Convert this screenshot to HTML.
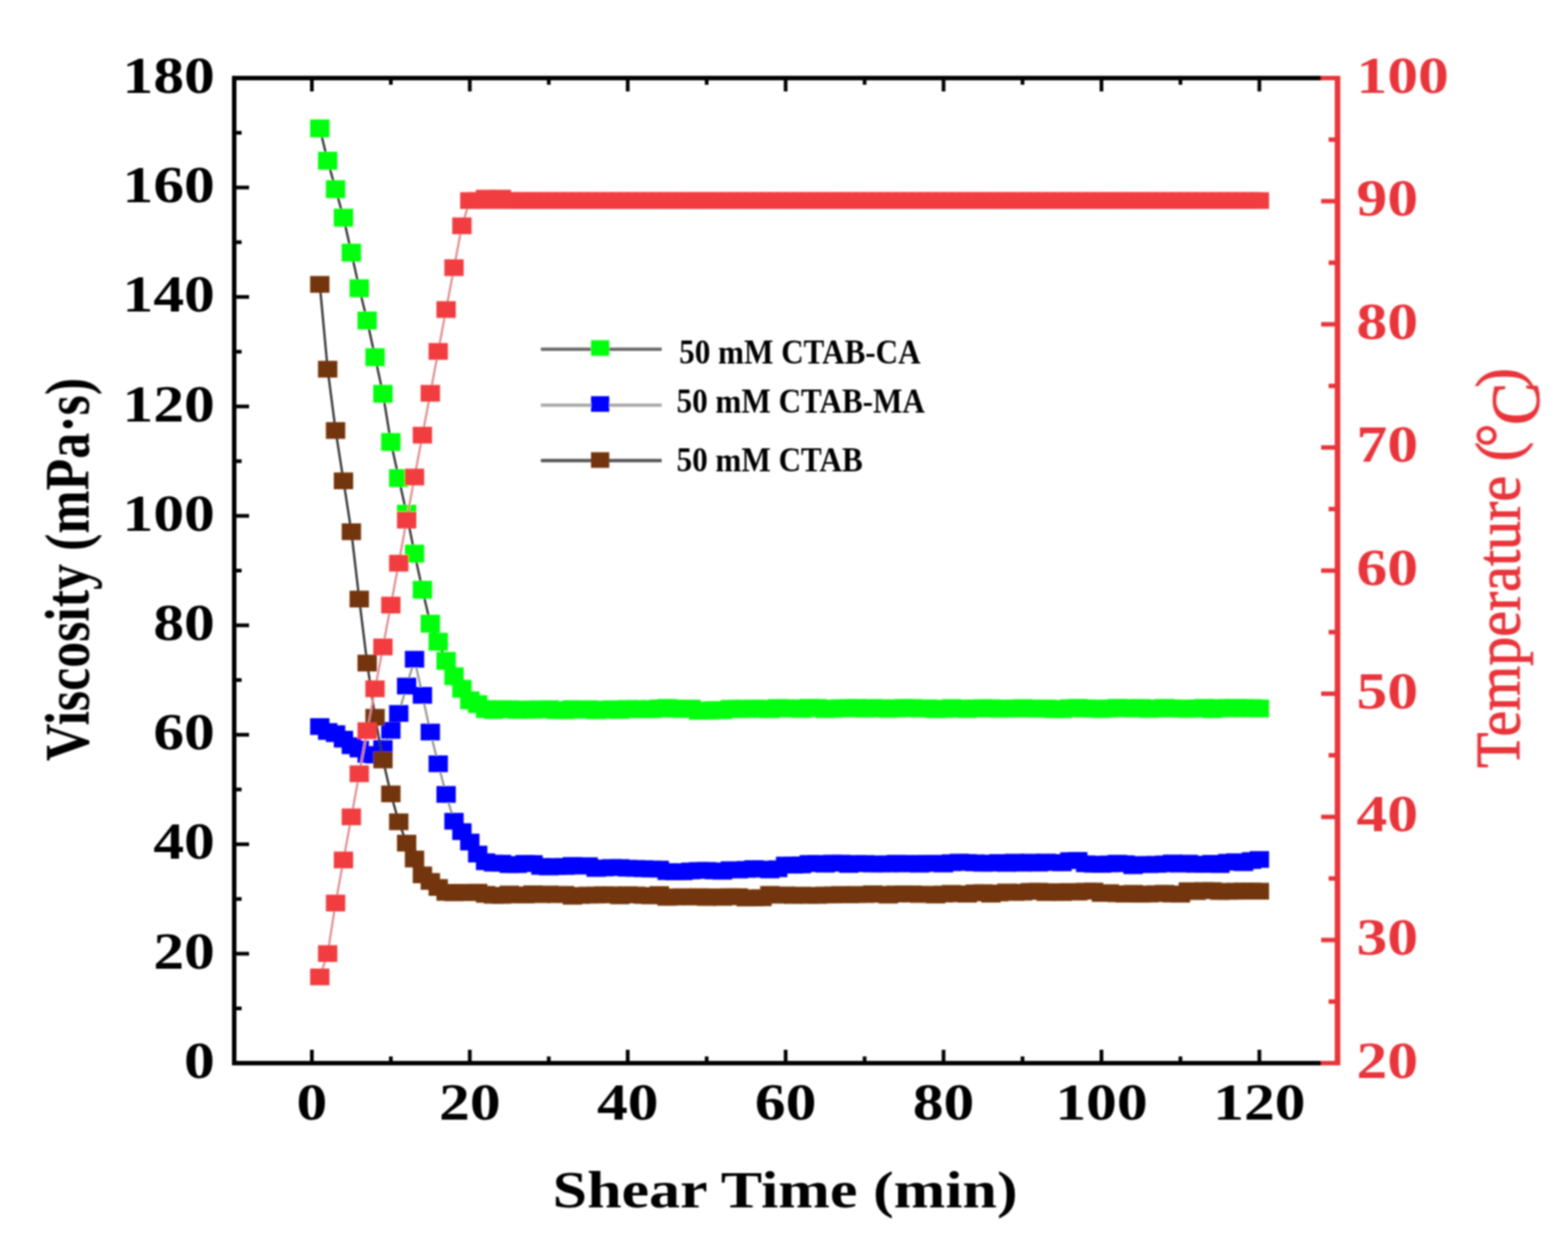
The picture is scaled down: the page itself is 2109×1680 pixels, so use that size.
<!DOCTYPE html>
<html><head><meta charset="utf-8"><title>Viscosity vs Shear Time</title>
<style>html,body{margin:0;padding:0;background:#fff;overflow:hidden}svg{display:block}</style>
</head><body>
<svg width="2109" height="1680" viewBox="0 0 2109 1680" font-family="'Liberation Serif', 'Times New Roman', serif">
<defs><filter id="soft" filterUnits="userSpaceOnUse" x="0" y="0" width="2109" height="1680"><feGaussianBlur stdDeviation="1.25"/></filter></defs>
<rect width="2109" height="1680" fill="#fff"/>
<g filter="url(#soft)">
<polyline fill="none" stroke="#333" stroke-width="3" points="430.1,172.7 440.7,216.2 451.4,254.4 462.0,292.7 472.6,339.8 483.2,387.7 493.8,431.1 504.5,480.4 515.1,529.7 525.7,594.5 536.3,643.1 546.9,690.9 557.6,744.7 568.2,793.3 578.8,838.9 589.4,863.2 600.0,889.0 610.7,909.6 621.3,926.5 631.9,942.0 642.5,947.1 653.1,953.7 663.8,955.1 674.4,953.9 685.0,954.0 695.6,954.9 706.2,954.5 716.9,954.6 727.5,954.2 738.1,954.0 748.7,955.2 759.3,955.3 770.0,953.9 780.6,954.6 791.2,954.0 801.8,955.4 812.4,954.6 823.1,954.1 833.7,955.0 844.3,953.7 854.9,953.8 865.5,953.8 876.2,953.8 886.8,952.9 897.4,952.2 908.0,953.2 918.6,953.5 929.3,953.1 939.9,956.0 950.5,955.7 961.1,955.3 971.7,955.2 982.4,953.5 993.0,953.5 1003.6,953.5 1014.2,953.1 1024.8,953.4 1035.5,953.8 1046.1,952.4 1056.7,952.9 1067.3,952.7 1077.9,953.6 1088.6,952.1 1099.2,952.4 1109.8,953.7 1120.4,953.3 1131.0,952.6 1141.7,952.6 1152.3,952.2 1162.9,953.1 1173.5,952.4 1184.1,952.7 1194.8,953.3 1205.4,952.8 1216.0,952.3 1226.6,952.4 1237.2,953.0 1247.9,952.8 1258.5,953.8 1269.1,953.5 1279.7,952.5 1290.3,953.2 1301.0,953.6 1311.6,952.9 1322.2,952.6 1332.8,952.7 1343.4,953.2 1354.1,953.1 1364.7,953.0 1375.3,952.5 1385.9,953.0 1396.5,953.2 1407.2,953.0 1417.8,953.8 1428.4,953.8 1439.0,952.6 1449.6,952.1 1460.3,952.8 1470.9,953.2 1481.5,953.6 1492.1,953.0 1502.7,952.1 1513.4,952.5 1524.0,952.9 1534.6,952.4 1545.2,953.5 1555.8,953.0 1566.5,952.2 1577.1,952.9 1587.7,953.1 1598.3,953.4 1608.9,952.9 1619.6,952.2 1630.2,953.9 1640.8,952.5 1651.4,952.4 1662.0,952.3 1672.7,952.6 1683.3,952.5 1693.9,953.0"/>
<g fill="#00ff0a"><rect x="417.12" y="160.72" width="26.0" height="24.0"/><rect x="427.74" y="204.15" width="26.0" height="24.0"/><rect x="438.36" y="242.43" width="26.0" height="24.0"/><rect x="448.98" y="280.71" width="26.0" height="24.0"/><rect x="459.60" y="327.82" width="26.0" height="24.0"/><rect x="470.22" y="375.67" width="26.0" height="24.0"/><rect x="480.84" y="419.10" width="26.0" height="24.0"/><rect x="491.46" y="468.42" width="26.0" height="24.0"/><rect x="502.08" y="517.74" width="26.0" height="24.0"/><rect x="512.70" y="582.51" width="26.0" height="24.0"/><rect x="523.32" y="631.10" width="26.0" height="24.0"/><rect x="533.94" y="678.94" width="26.0" height="24.0"/><rect x="544.56" y="732.68" width="26.0" height="24.0"/><rect x="555.18" y="781.26" width="26.0" height="24.0"/><rect x="565.80" y="826.90" width="26.0" height="24.0"/><rect x="576.42" y="851.19" width="26.0" height="24.0"/><rect x="587.04" y="876.96" width="26.0" height="24.0"/><rect x="597.66" y="897.57" width="26.0" height="24.0"/><rect x="608.28" y="914.50" width="26.0" height="24.0"/><rect x="618.90" y="929.96" width="26.0" height="24.0"/><rect x="629.52" y="935.11" width="26.0" height="24.0"/><rect x="640.14" y="941.74" width="26.0" height="24.0"/><rect x="650.76" y="943.12" width="26.0" height="24.0"/><rect x="661.38" y="941.86" width="26.0" height="24.0"/><rect x="672.00" y="942.01" width="26.0" height="24.0"/><rect x="682.62" y="942.90" width="26.0" height="24.0"/><rect x="693.24" y="942.48" width="26.0" height="24.0"/><rect x="703.86" y="942.56" width="26.0" height="24.0"/><rect x="714.48" y="942.20" width="26.0" height="24.0"/><rect x="725.10" y="941.96" width="26.0" height="24.0"/><rect x="735.72" y="943.19" width="26.0" height="24.0"/><rect x="746.34" y="943.31" width="26.0" height="24.0"/><rect x="756.96" y="941.88" width="26.0" height="24.0"/><rect x="767.58" y="942.59" width="26.0" height="24.0"/><rect x="778.20" y="942.01" width="26.0" height="24.0"/><rect x="788.82" y="943.35" width="26.0" height="24.0"/><rect x="799.44" y="942.57" width="26.0" height="24.0"/><rect x="810.06" y="942.08" width="26.0" height="24.0"/><rect x="820.68" y="942.95" width="26.0" height="24.0"/><rect x="831.30" y="941.69" width="26.0" height="24.0"/><rect x="841.92" y="941.76" width="26.0" height="24.0"/><rect x="852.54" y="941.83" width="26.0" height="24.0"/><rect x="863.16" y="941.84" width="26.0" height="24.0"/><rect x="873.78" y="940.93" width="26.0" height="24.0"/><rect x="884.40" y="940.22" width="26.0" height="24.0"/><rect x="895.02" y="941.21" width="26.0" height="24.0"/><rect x="905.64" y="941.50" width="26.0" height="24.0"/><rect x="916.26" y="941.14" width="26.0" height="24.0"/><rect x="926.88" y="944.04" width="26.0" height="24.0"/><rect x="937.50" y="943.70" width="26.0" height="24.0"/><rect x="948.12" y="943.32" width="26.0" height="24.0"/><rect x="958.74" y="943.22" width="26.0" height="24.0"/><rect x="969.36" y="941.47" width="26.0" height="24.0"/><rect x="979.98" y="941.48" width="26.0" height="24.0"/><rect x="990.60" y="941.50" width="26.0" height="24.0"/><rect x="1001.22" y="941.07" width="26.0" height="24.0"/><rect x="1011.84" y="941.37" width="26.0" height="24.0"/><rect x="1022.46" y="941.85" width="26.0" height="24.0"/><rect x="1033.08" y="940.40" width="26.0" height="24.0"/><rect x="1043.70" y="940.90" width="26.0" height="24.0"/><rect x="1054.32" y="940.75" width="26.0" height="24.0"/><rect x="1064.94" y="941.55" width="26.0" height="24.0"/><rect x="1075.56" y="940.13" width="26.0" height="24.0"/><rect x="1086.18" y="940.36" width="26.0" height="24.0"/><rect x="1096.80" y="941.67" width="26.0" height="24.0"/><rect x="1107.42" y="941.30" width="26.0" height="24.0"/><rect x="1118.04" y="940.61" width="26.0" height="24.0"/><rect x="1128.66" y="940.63" width="26.0" height="24.0"/><rect x="1139.28" y="940.23" width="26.0" height="24.0"/><rect x="1149.90" y="941.14" width="26.0" height="24.0"/><rect x="1160.52" y="940.42" width="26.0" height="24.0"/><rect x="1171.14" y="940.70" width="26.0" height="24.0"/><rect x="1181.76" y="941.35" width="26.0" height="24.0"/><rect x="1192.38" y="940.85" width="26.0" height="24.0"/><rect x="1203.00" y="940.32" width="26.0" height="24.0"/><rect x="1213.62" y="940.39" width="26.0" height="24.0"/><rect x="1224.24" y="940.99" width="26.0" height="24.0"/><rect x="1234.86" y="940.84" width="26.0" height="24.0"/><rect x="1245.48" y="941.82" width="26.0" height="24.0"/><rect x="1256.10" y="941.45" width="26.0" height="24.0"/><rect x="1266.72" y="940.47" width="26.0" height="24.0"/><rect x="1277.34" y="941.15" width="26.0" height="24.0"/><rect x="1287.96" y="941.58" width="26.0" height="24.0"/><rect x="1298.58" y="940.91" width="26.0" height="24.0"/><rect x="1309.20" y="940.64" width="26.0" height="24.0"/><rect x="1319.82" y="940.69" width="26.0" height="24.0"/><rect x="1330.44" y="941.22" width="26.0" height="24.0"/><rect x="1341.06" y="941.11" width="26.0" height="24.0"/><rect x="1351.68" y="940.99" width="26.0" height="24.0"/><rect x="1362.30" y="940.51" width="26.0" height="24.0"/><rect x="1372.92" y="940.96" width="26.0" height="24.0"/><rect x="1383.54" y="941.19" width="26.0" height="24.0"/><rect x="1394.16" y="941.02" width="26.0" height="24.0"/><rect x="1404.78" y="941.83" width="26.0" height="24.0"/><rect x="1415.40" y="941.81" width="26.0" height="24.0"/><rect x="1426.02" y="940.64" width="26.0" height="24.0"/><rect x="1436.64" y="940.15" width="26.0" height="24.0"/><rect x="1447.26" y="940.84" width="26.0" height="24.0"/><rect x="1457.88" y="941.19" width="26.0" height="24.0"/><rect x="1468.50" y="941.58" width="26.0" height="24.0"/><rect x="1479.12" y="941.00" width="26.0" height="24.0"/><rect x="1489.74" y="940.15" width="26.0" height="24.0"/><rect x="1500.36" y="940.52" width="26.0" height="24.0"/><rect x="1510.98" y="940.93" width="26.0" height="24.0"/><rect x="1521.60" y="940.36" width="26.0" height="24.0"/><rect x="1532.22" y="941.47" width="26.0" height="24.0"/><rect x="1542.84" y="940.98" width="26.0" height="24.0"/><rect x="1553.46" y="940.20" width="26.0" height="24.0"/><rect x="1564.08" y="940.86" width="26.0" height="24.0"/><rect x="1574.70" y="941.07" width="26.0" height="24.0"/><rect x="1585.32" y="941.41" width="26.0" height="24.0"/><rect x="1595.94" y="940.92" width="26.0" height="24.0"/><rect x="1606.56" y="940.19" width="26.0" height="24.0"/><rect x="1617.18" y="941.87" width="26.0" height="24.0"/><rect x="1627.80" y="940.50" width="26.0" height="24.0"/><rect x="1638.42" y="940.43" width="26.0" height="24.0"/><rect x="1649.04" y="940.32" width="26.0" height="24.0"/><rect x="1659.66" y="940.58" width="26.0" height="24.0"/><rect x="1670.28" y="940.45" width="26.0" height="24.0"/><rect x="1680.90" y="940.97" width="26.0" height="24.0"/></g>
<polyline fill="none" stroke="#999" stroke-width="3" points="430.1,977.3 440.7,983.9 451.4,986.9 462.0,994.2 472.6,1003.1 483.2,1007.5 493.8,1014.8 504.5,1015.6 515.1,1006.7 525.7,982.4 536.3,959.6 546.9,922.8 557.6,886.8 568.2,935.3 578.8,984.7 589.4,1027.3 600.0,1068.6 610.7,1104.6 621.3,1118.6 631.9,1132.6 642.5,1148.8 653.1,1159.1 663.8,1161.0 674.4,1161.1 685.0,1163.0 695.6,1163.0 706.2,1161.3 716.9,1161.5 727.5,1165.4 738.1,1166.2 748.7,1165.5 759.3,1165.5 770.0,1164.1 780.6,1165.0 791.2,1164.4 801.8,1168.2 812.4,1167.5 823.1,1166.9 833.7,1167.0 844.3,1167.8 854.9,1168.1 865.5,1168.5 876.2,1169.0 886.8,1169.0 897.4,1172.4 908.0,1172.8 918.6,1172.6 929.3,1171.5 939.9,1170.8 950.5,1170.8 961.1,1171.5 971.7,1171.9 982.4,1169.8 993.0,1170.2 1003.6,1169.4 1014.2,1168.3 1024.8,1169.0 1035.5,1170.1 1046.1,1168.5 1056.7,1163.6 1067.3,1163.7 1077.9,1163.4 1088.6,1161.5 1099.2,1161.4 1109.8,1162.4 1120.4,1161.0 1131.0,1161.0 1141.7,1162.8 1152.3,1161.5 1162.9,1161.6 1173.5,1162.1 1184.1,1162.0 1194.8,1162.1 1205.4,1161.1 1216.0,1162.1 1226.6,1161.3 1237.2,1162.4 1247.9,1161.2 1258.5,1161.2 1269.1,1162.1 1279.7,1160.4 1290.3,1159.7 1301.0,1160.1 1311.6,1160.6 1322.2,1161.2 1332.8,1161.0 1343.4,1160.1 1354.1,1161.3 1364.7,1159.7 1375.3,1161.1 1385.9,1159.7 1396.5,1161.0 1407.2,1159.6 1417.8,1160.1 1428.4,1160.6 1439.0,1157.6 1449.6,1157.3 1460.3,1161.9 1470.9,1162.5 1481.5,1162.7 1492.1,1162.0 1502.7,1161.1 1513.4,1161.8 1524.0,1164.5 1534.6,1162.8 1545.2,1163.0 1555.8,1162.6 1566.5,1162.0 1577.1,1160.8 1587.7,1162.3 1598.3,1161.0 1608.9,1162.6 1619.6,1162.7 1630.2,1161.2 1640.8,1162.9 1651.4,1159.8 1662.0,1159.1 1672.7,1160.4 1683.3,1157.5 1693.9,1156.1"/>
<g fill="#0000ff"><rect x="417.12" y="966.04" width="26.0" height="22.5"/><rect x="427.74" y="972.67" width="26.0" height="22.5"/><rect x="438.36" y="975.61" width="26.0" height="22.5"/><rect x="448.98" y="982.97" width="26.0" height="22.5"/><rect x="459.60" y="991.81" width="26.0" height="22.5"/><rect x="470.22" y="996.22" width="26.0" height="22.5"/><rect x="480.84" y="1003.58" width="26.0" height="22.5"/><rect x="491.46" y="1004.32" width="26.0" height="22.5"/><rect x="502.08" y="995.49" width="26.0" height="22.5"/><rect x="512.70" y="971.19" width="26.0" height="22.5"/><rect x="523.32" y="948.38" width="26.0" height="22.5"/><rect x="533.94" y="911.57" width="26.0" height="22.5"/><rect x="544.56" y="875.50" width="26.0" height="22.5"/><rect x="555.18" y="924.08" width="26.0" height="22.5"/><rect x="565.80" y="973.40" width="26.0" height="22.5"/><rect x="576.42" y="1016.10" width="26.0" height="22.5"/><rect x="587.04" y="1057.32" width="26.0" height="22.5"/><rect x="597.66" y="1093.39" width="26.0" height="22.5"/><rect x="608.28" y="1107.38" width="26.0" height="22.5"/><rect x="618.90" y="1121.36" width="26.0" height="22.5"/><rect x="629.52" y="1137.56" width="26.0" height="22.5"/><rect x="640.14" y="1147.86" width="26.0" height="22.5"/><rect x="650.76" y="1149.80" width="26.0" height="22.5"/><rect x="661.38" y="1149.82" width="26.0" height="22.5"/><rect x="672.00" y="1151.78" width="26.0" height="22.5"/><rect x="682.62" y="1151.72" width="26.0" height="22.5"/><rect x="693.24" y="1150.06" width="26.0" height="22.5"/><rect x="703.86" y="1150.28" width="26.0" height="22.5"/><rect x="714.48" y="1154.11" width="26.0" height="22.5"/><rect x="725.10" y="1154.91" width="26.0" height="22.5"/><rect x="735.72" y="1154.25" width="26.0" height="22.5"/><rect x="746.34" y="1154.25" width="26.0" height="22.5"/><rect x="756.96" y="1152.83" width="26.0" height="22.5"/><rect x="767.58" y="1153.77" width="26.0" height="22.5"/><rect x="778.20" y="1153.17" width="26.0" height="22.5"/><rect x="788.82" y="1156.93" width="26.0" height="22.5"/><rect x="799.44" y="1156.20" width="26.0" height="22.5"/><rect x="810.06" y="1155.60" width="26.0" height="22.5"/><rect x="820.68" y="1155.70" width="26.0" height="22.5"/><rect x="831.30" y="1156.60" width="26.0" height="22.5"/><rect x="841.92" y="1156.82" width="26.0" height="22.5"/><rect x="852.54" y="1157.21" width="26.0" height="22.5"/><rect x="863.16" y="1157.72" width="26.0" height="22.5"/><rect x="873.78" y="1157.74" width="26.0" height="22.5"/><rect x="884.40" y="1161.19" width="26.0" height="22.5"/><rect x="895.02" y="1161.51" width="26.0" height="22.5"/><rect x="905.64" y="1161.38" width="26.0" height="22.5"/><rect x="916.26" y="1160.25" width="26.0" height="22.5"/><rect x="926.88" y="1159.58" width="26.0" height="22.5"/><rect x="937.50" y="1159.51" width="26.0" height="22.5"/><rect x="948.12" y="1160.22" width="26.0" height="22.5"/><rect x="958.74" y="1160.69" width="26.0" height="22.5"/><rect x="969.36" y="1158.55" width="26.0" height="22.5"/><rect x="979.98" y="1158.97" width="26.0" height="22.5"/><rect x="990.60" y="1158.14" width="26.0" height="22.5"/><rect x="1001.22" y="1157.07" width="26.0" height="22.5"/><rect x="1011.84" y="1157.78" width="26.0" height="22.5"/><rect x="1022.46" y="1158.87" width="26.0" height="22.5"/><rect x="1033.08" y="1157.30" width="26.0" height="22.5"/><rect x="1043.70" y="1152.36" width="26.0" height="22.5"/><rect x="1054.32" y="1152.50" width="26.0" height="22.5"/><rect x="1064.94" y="1152.12" width="26.0" height="22.5"/><rect x="1075.56" y="1150.23" width="26.0" height="22.5"/><rect x="1086.18" y="1150.17" width="26.0" height="22.5"/><rect x="1096.80" y="1151.13" width="26.0" height="22.5"/><rect x="1107.42" y="1149.74" width="26.0" height="22.5"/><rect x="1118.04" y="1149.79" width="26.0" height="22.5"/><rect x="1128.66" y="1151.55" width="26.0" height="22.5"/><rect x="1139.28" y="1150.24" width="26.0" height="22.5"/><rect x="1149.90" y="1150.33" width="26.0" height="22.5"/><rect x="1160.52" y="1150.89" width="26.0" height="22.5"/><rect x="1171.14" y="1150.74" width="26.0" height="22.5"/><rect x="1181.76" y="1150.83" width="26.0" height="22.5"/><rect x="1192.38" y="1149.87" width="26.0" height="22.5"/><rect x="1203.00" y="1150.80" width="26.0" height="22.5"/><rect x="1213.62" y="1150.07" width="26.0" height="22.5"/><rect x="1224.24" y="1151.13" width="26.0" height="22.5"/><rect x="1234.86" y="1149.96" width="26.0" height="22.5"/><rect x="1245.48" y="1149.92" width="26.0" height="22.5"/><rect x="1256.10" y="1150.89" width="26.0" height="22.5"/><rect x="1266.72" y="1149.18" width="26.0" height="22.5"/><rect x="1277.34" y="1148.41" width="26.0" height="22.5"/><rect x="1287.96" y="1148.84" width="26.0" height="22.5"/><rect x="1298.58" y="1149.36" width="26.0" height="22.5"/><rect x="1309.20" y="1149.95" width="26.0" height="22.5"/><rect x="1319.82" y="1149.72" width="26.0" height="22.5"/><rect x="1330.44" y="1148.89" width="26.0" height="22.5"/><rect x="1341.06" y="1150.07" width="26.0" height="22.5"/><rect x="1351.68" y="1148.43" width="26.0" height="22.5"/><rect x="1362.30" y="1149.85" width="26.0" height="22.5"/><rect x="1372.92" y="1148.42" width="26.0" height="22.5"/><rect x="1383.54" y="1149.75" width="26.0" height="22.5"/><rect x="1394.16" y="1148.32" width="26.0" height="22.5"/><rect x="1404.78" y="1148.88" width="26.0" height="22.5"/><rect x="1415.40" y="1149.32" width="26.0" height="22.5"/><rect x="1426.02" y="1146.35" width="26.0" height="22.5"/><rect x="1436.64" y="1146.05" width="26.0" height="22.5"/><rect x="1447.26" y="1150.61" width="26.0" height="22.5"/><rect x="1457.88" y="1151.22" width="26.0" height="22.5"/><rect x="1468.50" y="1151.45" width="26.0" height="22.5"/><rect x="1479.12" y="1150.78" width="26.0" height="22.5"/><rect x="1489.74" y="1149.85" width="26.0" height="22.5"/><rect x="1500.36" y="1150.53" width="26.0" height="22.5"/><rect x="1510.98" y="1153.22" width="26.0" height="22.5"/><rect x="1521.60" y="1151.57" width="26.0" height="22.5"/><rect x="1532.22" y="1151.78" width="26.0" height="22.5"/><rect x="1542.84" y="1151.38" width="26.0" height="22.5"/><rect x="1553.46" y="1150.75" width="26.0" height="22.5"/><rect x="1564.08" y="1149.53" width="26.0" height="22.5"/><rect x="1574.70" y="1151.04" width="26.0" height="22.5"/><rect x="1585.32" y="1149.73" width="26.0" height="22.5"/><rect x="1595.94" y="1151.31" width="26.0" height="22.5"/><rect x="1606.56" y="1151.41" width="26.0" height="22.5"/><rect x="1617.18" y="1149.98" width="26.0" height="22.5"/><rect x="1627.80" y="1151.68" width="26.0" height="22.5"/><rect x="1638.42" y="1148.55" width="26.0" height="22.5"/><rect x="1649.04" y="1147.82" width="26.0" height="22.5"/><rect x="1659.66" y="1149.16" width="26.0" height="22.5"/><rect x="1670.28" y="1146.29" width="26.0" height="22.5"/><rect x="1680.90" y="1144.81" width="26.0" height="22.5"/></g>
<polyline fill="none" stroke="#333" stroke-width="3" points="430.1,382.5 440.7,496.6 451.4,579.1 462.0,646.8 472.6,715.2 483.2,805.8 493.8,891.9 504.5,964.8 515.1,1022.2 525.7,1067.8 536.3,1105.4 546.9,1134.1 557.6,1155.4 568.2,1176.8 578.8,1185.6 589.4,1193.7 600.0,1200.3 610.7,1200.9 621.3,1200.2 631.9,1200.6 642.5,1200.1 653.1,1203.0 663.8,1204.2 674.4,1204.4 685.0,1202.5 695.6,1203.8 706.2,1203.9 716.9,1202.2 727.5,1203.3 738.1,1202.5 748.7,1203.3 759.3,1203.0 770.0,1205.5 780.6,1204.5 791.2,1203.9 801.8,1204.0 812.4,1203.5 823.1,1203.6 833.7,1205.0 844.3,1203.4 854.9,1203.8 865.5,1204.5 876.2,1205.0 886.8,1203.2 897.4,1207.0 908.0,1206.5 918.6,1206.1 929.3,1206.5 939.9,1206.0 950.5,1207.2 961.1,1206.3 971.7,1207.1 982.4,1206.0 993.0,1206.1 1003.6,1207.8 1014.2,1207.8 1024.8,1207.6 1035.5,1203.0 1046.1,1204.2 1056.7,1203.7 1067.3,1204.5 1077.9,1204.0 1088.6,1204.3 1099.2,1204.3 1109.8,1203.8 1120.4,1203.8 1131.0,1203.1 1141.7,1203.6 1152.3,1203.1 1162.9,1203.2 1173.5,1202.2 1184.1,1202.9 1194.8,1204.0 1205.4,1202.5 1216.0,1202.3 1226.6,1202.4 1237.2,1203.1 1247.9,1202.8 1258.5,1203.9 1269.1,1202.5 1279.7,1201.6 1290.3,1202.3 1301.0,1202.8 1311.6,1201.0 1322.2,1200.7 1332.8,1202.7 1343.4,1201.1 1354.1,1199.8 1364.7,1200.4 1375.3,1200.1 1385.9,1199.0 1396.5,1198.8 1407.2,1200.6 1417.8,1199.3 1428.4,1200.6 1439.0,1199.1 1449.6,1200.0 1460.3,1198.8 1470.9,1198.5 1481.5,1201.8 1492.1,1200.7 1502.7,1202.2 1513.4,1202.7 1524.0,1201.6 1534.6,1202.8 1545.2,1202.5 1555.8,1202.0 1566.5,1201.6 1577.1,1202.6 1587.7,1202.8 1598.3,1198.0 1608.9,1199.3 1619.6,1197.8 1630.2,1198.0 1640.8,1199.1 1651.4,1198.9 1662.0,1198.8 1672.7,1198.5 1683.3,1198.6 1693.9,1198.7"/>
<g fill="#733507"><rect x="417.12" y="371.26" width="26.0" height="22.5"/><rect x="427.74" y="485.36" width="26.0" height="22.5"/><rect x="438.36" y="567.81" width="26.0" height="22.5"/><rect x="448.98" y="635.53" width="26.0" height="22.5"/><rect x="459.60" y="703.99" width="26.0" height="22.5"/><rect x="470.22" y="794.53" width="26.0" height="22.5"/><rect x="480.84" y="880.65" width="26.0" height="22.5"/><rect x="491.46" y="953.53" width="26.0" height="22.5"/><rect x="502.08" y="1010.94" width="26.0" height="22.5"/><rect x="512.70" y="1056.58" width="26.0" height="22.5"/><rect x="523.32" y="1094.12" width="26.0" height="22.5"/><rect x="533.94" y="1122.83" width="26.0" height="22.5"/><rect x="544.56" y="1144.18" width="26.0" height="22.5"/><rect x="555.18" y="1165.53" width="26.0" height="22.5"/><rect x="565.80" y="1174.36" width="26.0" height="22.5"/><rect x="576.42" y="1182.46" width="26.0" height="22.5"/><rect x="587.04" y="1189.08" width="26.0" height="22.5"/><rect x="597.66" y="1189.66" width="26.0" height="22.5"/><rect x="608.28" y="1188.99" width="26.0" height="22.5"/><rect x="618.90" y="1189.37" width="26.0" height="22.5"/><rect x="629.52" y="1188.85" width="26.0" height="22.5"/><rect x="640.14" y="1191.75" width="26.0" height="22.5"/><rect x="650.76" y="1192.99" width="26.0" height="22.5"/><rect x="661.38" y="1193.10" width="26.0" height="22.5"/><rect x="672.00" y="1191.28" width="26.0" height="22.5"/><rect x="682.62" y="1192.56" width="26.0" height="22.5"/><rect x="693.24" y="1192.61" width="26.0" height="22.5"/><rect x="703.86" y="1190.93" width="26.0" height="22.5"/><rect x="714.48" y="1192.09" width="26.0" height="22.5"/><rect x="725.10" y="1191.28" width="26.0" height="22.5"/><rect x="735.72" y="1192.08" width="26.0" height="22.5"/><rect x="746.34" y="1191.72" width="26.0" height="22.5"/><rect x="756.96" y="1194.27" width="26.0" height="22.5"/><rect x="767.58" y="1193.20" width="26.0" height="22.5"/><rect x="778.20" y="1192.69" width="26.0" height="22.5"/><rect x="788.82" y="1192.71" width="26.0" height="22.5"/><rect x="799.44" y="1192.23" width="26.0" height="22.5"/><rect x="810.06" y="1192.39" width="26.0" height="22.5"/><rect x="820.68" y="1193.73" width="26.0" height="22.5"/><rect x="831.30" y="1192.19" width="26.0" height="22.5"/><rect x="841.92" y="1192.56" width="26.0" height="22.5"/><rect x="852.54" y="1193.20" width="26.0" height="22.5"/><rect x="863.16" y="1193.80" width="26.0" height="22.5"/><rect x="873.78" y="1191.96" width="26.0" height="22.5"/><rect x="884.40" y="1195.77" width="26.0" height="22.5"/><rect x="895.02" y="1195.23" width="26.0" height="22.5"/><rect x="905.64" y="1194.87" width="26.0" height="22.5"/><rect x="916.26" y="1195.24" width="26.0" height="22.5"/><rect x="926.88" y="1194.78" width="26.0" height="22.5"/><rect x="937.50" y="1195.94" width="26.0" height="22.5"/><rect x="948.12" y="1195.04" width="26.0" height="22.5"/><rect x="958.74" y="1195.83" width="26.0" height="22.5"/><rect x="969.36" y="1194.75" width="26.0" height="22.5"/><rect x="979.98" y="1194.87" width="26.0" height="22.5"/><rect x="990.60" y="1196.60" width="26.0" height="22.5"/><rect x="1001.22" y="1196.51" width="26.0" height="22.5"/><rect x="1011.84" y="1196.33" width="26.0" height="22.5"/><rect x="1022.46" y="1191.74" width="26.0" height="22.5"/><rect x="1033.08" y="1192.90" width="26.0" height="22.5"/><rect x="1043.70" y="1192.48" width="26.0" height="22.5"/><rect x="1054.32" y="1193.20" width="26.0" height="22.5"/><rect x="1064.94" y="1192.75" width="26.0" height="22.5"/><rect x="1075.56" y="1193.02" width="26.0" height="22.5"/><rect x="1086.18" y="1193.09" width="26.0" height="22.5"/><rect x="1096.80" y="1192.58" width="26.0" height="22.5"/><rect x="1107.42" y="1192.58" width="26.0" height="22.5"/><rect x="1118.04" y="1191.87" width="26.0" height="22.5"/><rect x="1128.66" y="1192.36" width="26.0" height="22.5"/><rect x="1139.28" y="1191.82" width="26.0" height="22.5"/><rect x="1149.90" y="1191.98" width="26.0" height="22.5"/><rect x="1160.52" y="1190.94" width="26.0" height="22.5"/><rect x="1171.14" y="1191.65" width="26.0" height="22.5"/><rect x="1181.76" y="1192.77" width="26.0" height="22.5"/><rect x="1192.38" y="1191.23" width="26.0" height="22.5"/><rect x="1203.00" y="1191.00" width="26.0" height="22.5"/><rect x="1213.62" y="1191.13" width="26.0" height="22.5"/><rect x="1224.24" y="1191.88" width="26.0" height="22.5"/><rect x="1234.86" y="1191.56" width="26.0" height="22.5"/><rect x="1245.48" y="1192.67" width="26.0" height="22.5"/><rect x="1256.10" y="1191.30" width="26.0" height="22.5"/><rect x="1266.72" y="1190.39" width="26.0" height="22.5"/><rect x="1277.34" y="1191.03" width="26.0" height="22.5"/><rect x="1287.96" y="1191.52" width="26.0" height="22.5"/><rect x="1298.58" y="1189.77" width="26.0" height="22.5"/><rect x="1309.20" y="1189.47" width="26.0" height="22.5"/><rect x="1319.82" y="1191.46" width="26.0" height="22.5"/><rect x="1330.44" y="1189.89" width="26.0" height="22.5"/><rect x="1341.06" y="1188.54" width="26.0" height="22.5"/><rect x="1351.68" y="1189.12" width="26.0" height="22.5"/><rect x="1362.30" y="1188.80" width="26.0" height="22.5"/><rect x="1372.92" y="1187.75" width="26.0" height="22.5"/><rect x="1383.54" y="1187.52" width="26.0" height="22.5"/><rect x="1394.16" y="1189.35" width="26.0" height="22.5"/><rect x="1404.78" y="1188.09" width="26.0" height="22.5"/><rect x="1415.40" y="1189.35" width="26.0" height="22.5"/><rect x="1426.02" y="1187.86" width="26.0" height="22.5"/><rect x="1436.64" y="1188.72" width="26.0" height="22.5"/><rect x="1447.26" y="1187.51" width="26.0" height="22.5"/><rect x="1457.88" y="1187.29" width="26.0" height="22.5"/><rect x="1468.50" y="1190.54" width="26.0" height="22.5"/><rect x="1479.12" y="1189.45" width="26.0" height="22.5"/><rect x="1489.74" y="1190.98" width="26.0" height="22.5"/><rect x="1500.36" y="1191.49" width="26.0" height="22.5"/><rect x="1510.98" y="1190.34" width="26.0" height="22.5"/><rect x="1521.60" y="1191.59" width="26.0" height="22.5"/><rect x="1532.22" y="1191.22" width="26.0" height="22.5"/><rect x="1542.84" y="1190.76" width="26.0" height="22.5"/><rect x="1553.46" y="1190.31" width="26.0" height="22.5"/><rect x="1564.08" y="1191.31" width="26.0" height="22.5"/><rect x="1574.70" y="1191.57" width="26.0" height="22.5"/><rect x="1585.32" y="1186.80" width="26.0" height="22.5"/><rect x="1595.94" y="1188.02" width="26.0" height="22.5"/><rect x="1606.56" y="1186.60" width="26.0" height="22.5"/><rect x="1617.18" y="1186.74" width="26.0" height="22.5"/><rect x="1627.80" y="1187.88" width="26.0" height="22.5"/><rect x="1638.42" y="1187.70" width="26.0" height="22.5"/><rect x="1649.04" y="1187.57" width="26.0" height="22.5"/><rect x="1659.66" y="1187.29" width="26.0" height="22.5"/><rect x="1670.28" y="1187.40" width="26.0" height="22.5"/><rect x="1680.90" y="1187.48" width="26.0" height="22.5"/></g>
<polyline fill="none" stroke="#df8a8e" stroke-width="2.8" points="430.1,1314.1 440.7,1282.6 451.4,1214.7 462.0,1156.7 472.6,1098.8 483.2,1040.8 493.8,982.8 504.5,926.5 515.1,870.2 525.7,813.9 536.3,757.6 546.9,699.6 557.6,641.6 568.2,585.3 578.8,529.0 589.4,472.7 600.0,416.4 610.7,360.1 621.3,303.8 631.9,269.8 642.5,269.8 653.1,266.5 663.8,269.8 674.4,266.5 685.0,269.8 695.6,269.8 706.2,269.8 716.9,269.8 727.5,269.8 738.1,269.8 748.7,269.8 759.3,269.8 770.0,269.8 780.6,269.8 791.2,269.8 801.8,269.8 812.4,269.8 823.1,269.8 833.7,269.8 844.3,269.8 854.9,269.8 865.5,269.8 876.2,269.8 886.8,269.8 897.4,269.8 908.0,269.8 918.6,269.8 929.3,269.8 939.9,269.8 950.5,269.8 961.1,269.8 971.7,269.8 982.4,269.8 993.0,269.8 1003.6,269.8 1014.2,269.8 1024.8,269.8 1035.5,269.8 1046.1,269.8 1056.7,269.8 1067.3,269.8 1077.9,269.8 1088.6,269.8 1099.2,269.8 1109.8,269.8 1120.4,269.8 1131.0,269.8 1141.7,269.8 1152.3,269.8 1162.9,269.8 1173.5,269.8 1184.1,269.8 1194.8,269.8 1205.4,269.8 1216.0,269.8 1226.6,269.8 1237.2,269.8 1247.9,269.8 1258.5,269.8 1269.1,269.8 1279.7,269.8 1290.3,269.8 1301.0,269.8 1311.6,269.8 1322.2,269.8 1332.8,269.8 1343.4,269.8 1354.1,269.8 1364.7,269.8 1375.3,269.8 1385.9,269.8 1396.5,269.8 1407.2,269.8 1417.8,269.8 1428.4,269.8 1439.0,269.8 1449.6,269.8 1460.3,269.8 1470.9,269.8 1481.5,269.8 1492.1,269.8 1502.7,269.8 1513.4,269.8 1524.0,269.8 1534.6,269.8 1545.2,269.8 1555.8,269.8 1566.5,269.8 1577.1,269.8 1587.7,269.8 1598.3,269.8 1608.9,269.8 1619.6,269.8 1630.2,269.8 1640.8,269.8 1651.4,269.8 1662.0,269.8 1672.7,269.8 1683.3,269.8 1693.9,269.8"/>
<g fill="#f23c40"><rect x="417.12" y="1302.81" width="26.0" height="22.5"/><rect x="427.74" y="1271.34" width="26.0" height="22.5"/><rect x="438.36" y="1203.44" width="26.0" height="22.5"/><rect x="448.98" y="1145.47" width="26.0" height="22.5"/><rect x="459.60" y="1087.50" width="26.0" height="22.5"/><rect x="470.22" y="1029.53" width="26.0" height="22.5"/><rect x="480.84" y="971.56" width="26.0" height="22.5"/><rect x="491.46" y="915.25" width="26.0" height="22.5"/><rect x="502.08" y="858.94" width="26.0" height="22.5"/><rect x="512.70" y="802.62" width="26.0" height="22.5"/><rect x="523.32" y="746.31" width="26.0" height="22.5"/><rect x="533.94" y="688.34" width="26.0" height="22.5"/><rect x="544.56" y="630.38" width="26.0" height="22.5"/><rect x="555.18" y="574.06" width="26.0" height="22.5"/><rect x="565.80" y="517.75" width="26.0" height="22.5"/><rect x="576.42" y="461.44" width="26.0" height="22.5"/><rect x="587.04" y="405.12" width="26.0" height="22.5"/><rect x="597.66" y="348.81" width="26.0" height="22.5"/><rect x="608.28" y="292.50" width="26.0" height="22.5"/><rect x="618.90" y="258.55" width="26.0" height="22.5"/><rect x="629.52" y="258.55" width="26.0" height="22.5"/><rect x="640.14" y="255.23" width="26.0" height="22.5"/><rect x="650.76" y="258.55" width="26.0" height="22.5"/><rect x="661.38" y="255.23" width="26.0" height="22.5"/><rect x="672.00" y="258.55" width="26.0" height="22.5"/><rect x="682.62" y="258.55" width="26.0" height="22.5"/><rect x="693.24" y="258.55" width="26.0" height="22.5"/><rect x="703.86" y="258.55" width="26.0" height="22.5"/><rect x="714.48" y="258.55" width="26.0" height="22.5"/><rect x="725.10" y="258.55" width="26.0" height="22.5"/><rect x="735.72" y="258.55" width="26.0" height="22.5"/><rect x="746.34" y="258.55" width="26.0" height="22.5"/><rect x="756.96" y="258.55" width="26.0" height="22.5"/><rect x="767.58" y="258.55" width="26.0" height="22.5"/><rect x="778.20" y="258.55" width="26.0" height="22.5"/><rect x="788.82" y="258.55" width="26.0" height="22.5"/><rect x="799.44" y="258.55" width="26.0" height="22.5"/><rect x="810.06" y="258.55" width="26.0" height="22.5"/><rect x="820.68" y="258.55" width="26.0" height="22.5"/><rect x="831.30" y="258.55" width="26.0" height="22.5"/><rect x="841.92" y="258.55" width="26.0" height="22.5"/><rect x="852.54" y="258.55" width="26.0" height="22.5"/><rect x="863.16" y="258.55" width="26.0" height="22.5"/><rect x="873.78" y="258.55" width="26.0" height="22.5"/><rect x="884.40" y="258.55" width="26.0" height="22.5"/><rect x="895.02" y="258.55" width="26.0" height="22.5"/><rect x="905.64" y="258.55" width="26.0" height="22.5"/><rect x="916.26" y="258.55" width="26.0" height="22.5"/><rect x="926.88" y="258.55" width="26.0" height="22.5"/><rect x="937.50" y="258.55" width="26.0" height="22.5"/><rect x="948.12" y="258.55" width="26.0" height="22.5"/><rect x="958.74" y="258.55" width="26.0" height="22.5"/><rect x="969.36" y="258.55" width="26.0" height="22.5"/><rect x="979.98" y="258.55" width="26.0" height="22.5"/><rect x="990.60" y="258.55" width="26.0" height="22.5"/><rect x="1001.22" y="258.55" width="26.0" height="22.5"/><rect x="1011.84" y="258.55" width="26.0" height="22.5"/><rect x="1022.46" y="258.55" width="26.0" height="22.5"/><rect x="1033.08" y="258.55" width="26.0" height="22.5"/><rect x="1043.70" y="258.55" width="26.0" height="22.5"/><rect x="1054.32" y="258.55" width="26.0" height="22.5"/><rect x="1064.94" y="258.55" width="26.0" height="22.5"/><rect x="1075.56" y="258.55" width="26.0" height="22.5"/><rect x="1086.18" y="258.55" width="26.0" height="22.5"/><rect x="1096.80" y="258.55" width="26.0" height="22.5"/><rect x="1107.42" y="258.55" width="26.0" height="22.5"/><rect x="1118.04" y="258.55" width="26.0" height="22.5"/><rect x="1128.66" y="258.55" width="26.0" height="22.5"/><rect x="1139.28" y="258.55" width="26.0" height="22.5"/><rect x="1149.90" y="258.55" width="26.0" height="22.5"/><rect x="1160.52" y="258.55" width="26.0" height="22.5"/><rect x="1171.14" y="258.55" width="26.0" height="22.5"/><rect x="1181.76" y="258.55" width="26.0" height="22.5"/><rect x="1192.38" y="258.55" width="26.0" height="22.5"/><rect x="1203.00" y="258.55" width="26.0" height="22.5"/><rect x="1213.62" y="258.55" width="26.0" height="22.5"/><rect x="1224.24" y="258.55" width="26.0" height="22.5"/><rect x="1234.86" y="258.55" width="26.0" height="22.5"/><rect x="1245.48" y="258.55" width="26.0" height="22.5"/><rect x="1256.10" y="258.55" width="26.0" height="22.5"/><rect x="1266.72" y="258.55" width="26.0" height="22.5"/><rect x="1277.34" y="258.55" width="26.0" height="22.5"/><rect x="1287.96" y="258.55" width="26.0" height="22.5"/><rect x="1298.58" y="258.55" width="26.0" height="22.5"/><rect x="1309.20" y="258.55" width="26.0" height="22.5"/><rect x="1319.82" y="258.55" width="26.0" height="22.5"/><rect x="1330.44" y="258.55" width="26.0" height="22.5"/><rect x="1341.06" y="258.55" width="26.0" height="22.5"/><rect x="1351.68" y="258.55" width="26.0" height="22.5"/><rect x="1362.30" y="258.55" width="26.0" height="22.5"/><rect x="1372.92" y="258.55" width="26.0" height="22.5"/><rect x="1383.54" y="258.55" width="26.0" height="22.5"/><rect x="1394.16" y="258.55" width="26.0" height="22.5"/><rect x="1404.78" y="258.55" width="26.0" height="22.5"/><rect x="1415.40" y="258.55" width="26.0" height="22.5"/><rect x="1426.02" y="258.55" width="26.0" height="22.5"/><rect x="1436.64" y="258.55" width="26.0" height="22.5"/><rect x="1447.26" y="258.55" width="26.0" height="22.5"/><rect x="1457.88" y="258.55" width="26.0" height="22.5"/><rect x="1468.50" y="258.55" width="26.0" height="22.5"/><rect x="1479.12" y="258.55" width="26.0" height="22.5"/><rect x="1489.74" y="258.55" width="26.0" height="22.5"/><rect x="1500.36" y="258.55" width="26.0" height="22.5"/><rect x="1510.98" y="258.55" width="26.0" height="22.5"/><rect x="1521.60" y="258.55" width="26.0" height="22.5"/><rect x="1532.22" y="258.55" width="26.0" height="22.5"/><rect x="1542.84" y="258.55" width="26.0" height="22.5"/><rect x="1553.46" y="258.55" width="26.0" height="22.5"/><rect x="1564.08" y="258.55" width="26.0" height="22.5"/><rect x="1574.70" y="258.55" width="26.0" height="22.5"/><rect x="1585.32" y="258.55" width="26.0" height="22.5"/><rect x="1595.94" y="258.55" width="26.0" height="22.5"/><rect x="1606.56" y="258.55" width="26.0" height="22.5"/><rect x="1617.18" y="258.55" width="26.0" height="22.5"/><rect x="1627.80" y="258.55" width="26.0" height="22.5"/><rect x="1638.42" y="258.55" width="26.0" height="22.5"/><rect x="1649.04" y="258.55" width="26.0" height="22.5"/><rect x="1659.66" y="258.55" width="26.0" height="22.5"/><rect x="1670.28" y="258.55" width="26.0" height="22.5"/><rect x="1680.90" y="258.55" width="26.0" height="22.5"/></g>
<g stroke="#000" stroke-width="6" fill="none">
<path d="M312,105 H1777 M312,1430 H1777 M315,102 V1433"/>
</g>
<path d="M1777,105 H1802 M1799,102 V1433 M1802,1430 H1777" stroke="#e8343a" stroke-width="6" fill="none"/>
<path d="M1799,102 V1433" stroke="#e8343a" stroke-width="7.5" fill="none"/>
<g stroke="#000" stroke-width="5"><path d="M419.5,1430 V1412 M419.5,105 V123"/><path d="M525.7,1430 V1421 M525.7,105 V114"/><path d="M631.9,1430 V1412 M631.9,105 V123"/><path d="M738.1,1430 V1421 M738.1,105 V114"/><path d="M844.3,1430 V1412 M844.3,105 V123"/><path d="M950.5,1430 V1421 M950.5,105 V114"/><path d="M1056.7,1430 V1412 M1056.7,105 V123"/><path d="M1162.9,1430 V1421 M1162.9,105 V114"/><path d="M1269.1,1430 V1412 M1269.1,105 V123"/><path d="M1375.3,1430 V1421 M1375.3,105 V114"/><path d="M1481.5,1430 V1412 M1481.5,105 V123"/><path d="M1587.7,1430 V1421 M1587.7,105 V114"/><path d="M1693.9,1430 V1412 M1693.9,105 V123"/><path d="M315,1430.0 H335"/><path d="M315,1356.4 H325"/><path d="M315,1282.8 H335"/><path d="M315,1209.2 H325"/><path d="M315,1135.6 H335"/><path d="M315,1061.9 H325"/><path d="M315,988.3 H335"/><path d="M315,914.7 H325"/><path d="M315,841.1 H335"/><path d="M315,767.5 H325"/><path d="M315,693.9 H335"/><path d="M315,620.3 H325"/><path d="M315,546.7 H335"/><path d="M315,473.1 H325"/><path d="M315,399.4 H335"/><path d="M315,325.8 H325"/><path d="M315,252.2 H335"/><path d="M315,178.6 H325"/><path d="M315,105.0 H335"/></g><g stroke="#e8343a" stroke-width="6"><path d="M1799,1430.0 H1777"/><path d="M1799,1347.2 H1787"/><path d="M1799,1264.4 H1777"/><path d="M1799,1181.6 H1787"/><path d="M1799,1098.8 H1777"/><path d="M1799,1015.9 H1787"/><path d="M1799,933.1 H1777"/><path d="M1799,850.3 H1787"/><path d="M1799,767.5 H1777"/><path d="M1799,684.7 H1787"/><path d="M1799,601.9 H1777"/><path d="M1799,519.1 H1787"/><path d="M1799,436.2 H1777"/><path d="M1799,353.4 H1787"/><path d="M1799,270.6 H1777"/><path d="M1799,187.8 H1787"/><path d="M1799,105.0 H1777"/></g>
<text transform="translate(289.0,1449.8) scale(1.200,1)" font-size="69" text-anchor="end" font-weight="bold" fill="#000">0</text>
<text transform="translate(289.0,1302.6) scale(1.200,1)" font-size="69" text-anchor="end" font-weight="bold" fill="#000">20</text>
<text transform="translate(289.0,1155.4) scale(1.200,1)" font-size="69" text-anchor="end" font-weight="bold" fill="#000">40</text>
<text transform="translate(289.0,1008.1) scale(1.200,1)" font-size="69" text-anchor="end" font-weight="bold" fill="#000">60</text>
<text transform="translate(289.0,860.9) scale(1.200,1)" font-size="69" text-anchor="end" font-weight="bold" fill="#000">80</text>
<text transform="translate(289.0,713.7) scale(1.200,1)" font-size="69" text-anchor="end" font-weight="bold" fill="#000">100</text>
<text transform="translate(289.0,566.5) scale(1.200,1)" font-size="69" text-anchor="end" font-weight="bold" fill="#000">120</text>
<text transform="translate(289.0,419.2) scale(1.200,1)" font-size="69" text-anchor="end" font-weight="bold" fill="#000">140</text>
<text transform="translate(289.0,272.0) scale(1.200,1)" font-size="69" text-anchor="end" font-weight="bold" fill="#000">160</text>
<text transform="translate(289.0,124.8) scale(1.200,1)" font-size="69" text-anchor="end" font-weight="bold" fill="#000">180</text>
<text transform="translate(419.5,1506.0) scale(1.200,1)" font-size="69" text-anchor="middle" font-weight="bold" fill="#000">0</text>
<text transform="translate(631.9,1506.0) scale(1.200,1)" font-size="69" text-anchor="middle" font-weight="bold" fill="#000">20</text>
<text transform="translate(844.3,1506.0) scale(1.200,1)" font-size="69" text-anchor="middle" font-weight="bold" fill="#000">40</text>
<text transform="translate(1056.7,1506.0) scale(1.200,1)" font-size="69" text-anchor="middle" font-weight="bold" fill="#000">60</text>
<text transform="translate(1269.1,1506.0) scale(1.200,1)" font-size="69" text-anchor="middle" font-weight="bold" fill="#000">80</text>
<text transform="translate(1481.5,1506.0) scale(1.200,1)" font-size="69" text-anchor="middle" font-weight="bold" fill="#000">100</text>
<text transform="translate(1693.9,1506.0) scale(1.200,1)" font-size="69" text-anchor="middle" font-weight="bold" fill="#000">120</text>
<text transform="translate(1824.5,1449.5) scale(1.200,1)" font-size="69" text-anchor="start" font-weight="bold" fill="#e8343a">20</text>
<text transform="translate(1824.5,1283.9) scale(1.200,1)" font-size="69" text-anchor="start" font-weight="bold" fill="#e8343a">30</text>
<text transform="translate(1824.5,1118.2) scale(1.200,1)" font-size="69" text-anchor="start" font-weight="bold" fill="#e8343a">40</text>
<text transform="translate(1824.5,952.6) scale(1.200,1)" font-size="69" text-anchor="start" font-weight="bold" fill="#e8343a">50</text>
<text transform="translate(1824.5,787.0) scale(1.200,1)" font-size="69" text-anchor="start" font-weight="bold" fill="#e8343a">60</text>
<text transform="translate(1824.5,621.4) scale(1.200,1)" font-size="69" text-anchor="start" font-weight="bold" fill="#e8343a">70</text>
<text transform="translate(1824.5,455.8) scale(1.200,1)" font-size="69" text-anchor="start" font-weight="bold" fill="#e8343a">80</text>
<text transform="translate(1824.5,290.1) scale(1.200,1)" font-size="69" text-anchor="start" font-weight="bold" fill="#e8343a">90</text>
<text transform="translate(1824.5,124.5) scale(1.200,1)" font-size="69" text-anchor="start" font-weight="bold" fill="#e8343a">100</text>
<text transform="translate(1056.0,1624.0) scale(1.200,1)" font-size="69.5" text-anchor="middle" font-weight="bold" fill="#000">Shear Time (min)</text>
<text transform="translate(119.0,766.0) rotate(-90) scale(1,1.200)" font-size="69.85" text-anchor="middle" font-weight="bold" fill="#000">Viscosity (mPa&#183;s)</text>
<text transform="translate(2044,1033) rotate(-90) scale(1,1.072)" font-size="78" text-anchor="start" font-weight="normal" fill="#e8343a" stroke="#e8343a" stroke-width="1.1">Temperature (<tspan font-size="80" dx="-7">&#176;</tspan><tspan font-size="86" dx="-2" dy="24">C</tspan><tspan font-size="78" dx="-7" dy="-24">)</tspan></text>
<path d="M727.5,469.7 H890" stroke="#6a6a6a" stroke-width="4.5"/><rect x="794.95" y="457.60" width="24.5" height="21.0" fill="#00ff0a"/><text transform="translate(913.5,488.6) scale(0.910,1)" font-size="46" text-anchor="start" font-weight="bold" fill="#000">50 mM CTAB-CA</text>
<path d="M727.5,545.0 H890" stroke="#aaaaaa" stroke-width="4.5"/><rect x="794.95" y="532.90" width="24.5" height="21.0" fill="#0000ff"/><text transform="translate(910.0,554.6) scale(0.910,1)" font-size="46" text-anchor="start" font-weight="bold" fill="#000">50 mM CTAB-MA</text>
<path d="M727.5,619.4 H890" stroke="#555555" stroke-width="4.5"/><rect x="794.95" y="608.30" width="24.5" height="21.0" fill="#733507"/><text transform="translate(910.0,634.0) scale(0.910,1)" font-size="46" text-anchor="start" font-weight="bold" fill="#000">50 mM CTAB</text>
</g></svg>
</body></html>
